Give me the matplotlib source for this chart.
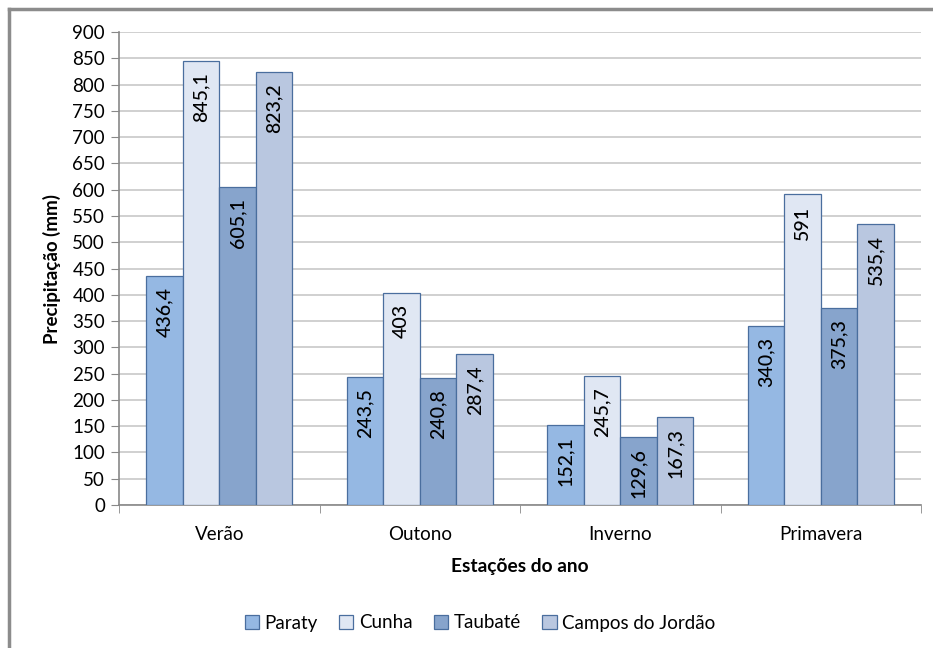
import matplotlib.pyplot as plt
import numpy as np
from matplotlib.lines import Line2D

plt.rcParams['font.family'] = ['Lato', 'DejaVu Sans']

seasons = ['Verão', 'Outono', 'Inverno', 'Primavera']
stations = ['Paraty', 'Cunha', 'Taubaté', 'Campos do Jordão']
paraty = [436.4, 243.5, 152.1, 340.3]
cunha = [845.1, 403, 245.7, 591]
taubate = [605.1, 240.8, 129.6, 375.3]
campos = [823.2, 287.4, 167.3, 535.4]

series = [paraty, cunha, taubate, campos]
colors = ['#95B8E3', '#E0E7F3', '#87A4CC', '#B9C7E0']
edge = '#4A6E9E'

fig = plt.figure(figsize=(9.33, 6.48), dpi=100)
ax = fig.add_axes([119 / 933, 1 - 505 / 648, 802 / 933, 473 / 648])

x = np.arange(len(seasons))
w = 0.182
for i, (vals, col, name) in enumerate(zip(series, colors, stations)):
    pos = x + (i - 1.5) * w
    bars = ax.bar(pos, vals, w, color=col, edgecolor=edge, linewidth=0.9,
                  label=name, zorder=3)
    for b, v in zip(bars, vals):
        lbl = ('%g' % v).replace('.', ',')
        ax.annotate(lbl, (b.get_x() + b.get_width() / 2, v),
                    xytext=(0, -8), textcoords='offset points',
                    rotation=90, ha='center', va='top', fontsize=14,
                    fontweight='medium', color='black', zorder=4)

ax.set_xlim(-0.5, 3.5)
ax.set_ylim(0, 900)
ax.set_yticks(np.arange(0, 901, 50))
ax.yaxis.grid(True, color='#C8C8C8', linewidth=1.2, zorder=0)
ax.set_xticks(x)
ax.set_xticklabels(seasons)
ax.set_xticks(np.arange(-0.5, 3.6, 1), minor=True)
ax.tick_params(axis='x', which='major', length=0, pad=15, labelsize=13.5)
ax.tick_params(axis='x', which='minor', length=6, color='#888888')
ax.tick_params(axis='y', length=6, color='#888888', labelsize=13.5, pad=4)
for s in ['top', 'right']:
    ax.spines[s].set_visible(False)
ax.spines['left'].set_color('#888888')
ax.spines['bottom'].set_color('#888888')
ax.spines['left'].set_linewidth(1.2)
ax.spines['bottom'].set_linewidth(1.2)

ax.set_ylabel('Precipitação (mm)', fontsize=13.5, fontweight='bold', labelpad=8)
ax.set_xlabel('Estações do ano', fontsize=13.8, fontweight='bold', labelpad=11)

ax.legend(loc='center', bbox_to_anchor=(480 / 933, 1 - 623 / 648),
          bbox_transform=fig.transFigure, ncol=4, frameon=False,
          fontsize=13.5, handlelength=0.75, handleheight=0.75,
          handletextpad=0.3, columnspacing=1.15)

# outer chart frame
fig.add_artist(Line2D([9 / 933, 9 / 933], [0, 1 - 9 / 648], color='#8C8C8C',
                      linewidth=2.5, transform=fig.transFigure))
fig.add_artist(Line2D([9 / 933, 1], [1 - 9 / 648, 1 - 9 / 648], color='#8C8C8C',
                      linewidth=2.5, transform=fig.transFigure))

fig.savefig('out.png', dpi=100)
